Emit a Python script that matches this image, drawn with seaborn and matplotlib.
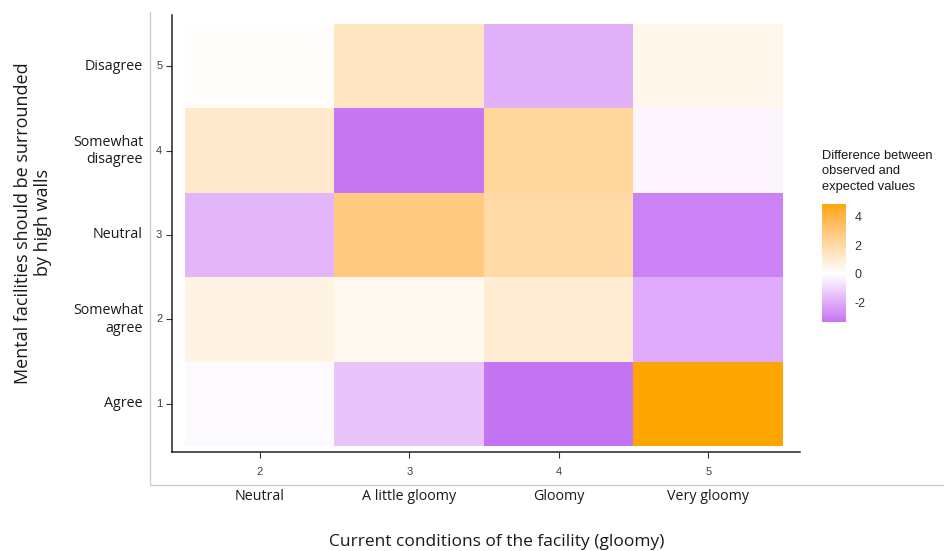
import numpy as np
import pandas as pd
import matplotlib
matplotlib.use("Agg")
import matplotlib.pyplot as plt
from matplotlib.colors import LinearSegmentedColormap, to_rgb
from matplotlib.lines import Line2D
import seaborn as sns

# ---- data ----
x_codes = [2, 3, 4, 5]
x_labels = ["Neutral", "A little gloomy", "Gloomy", "Very gloomy"]
y_codes = [5, 4, 3, 2, 1]  # top to bottom
y_labels = ["Disagree", "Somewhat\ndisagree", "Neutral", "Somewhat\nagree", "Agree"]
row_disagree = [0.1, 1.35, -1.9, 0.4]
row_smw_disagree = [1.1, -3.3, 2.2, -0.25]
row_neutral = [-1.8, 2.8, 1.95, -3.05]
row_smw_agree = [0.6, 0.35, 1.0, -2.1]
row_agree = [-0.12, -1.45, -3.4, 4.9]
cbar_ticks = [-2, 0, 2, 4]

values = np.array([row_disagree, row_smw_disagree, row_neutral, row_smw_agree, row_agree])
df = pd.DataFrame(values, index=y_codes, columns=x_codes)


# ---- Lab-space gradient (like ggplot's scale_fill_gradient2) ----
def _srgb_to_lab(c):
    c = np.array(c, float)
    lin = np.where(c <= 0.04045, c / 12.92, ((c + 0.055) / 1.055) ** 2.4)
    M = np.array([[0.4124, 0.3576, 0.1805], [0.2126, 0.7152, 0.0722], [0.0193, 0.1192, 0.9505]])
    xyz = M @ lin / np.array([0.95047, 1.0, 1.08883])
    f = np.where(xyz > 0.008856, np.cbrt(xyz), 7.787 * xyz + 16 / 116)
    return np.array([116 * f[1] - 16, 500 * (f[0] - f[1]), 200 * (f[1] - f[2])])


def _lab_to_srgb(lab):
    L, a, b = lab
    fy = (L + 16) / 116
    fx, fz = fy + a / 500, fy - b / 200
    f = np.array([fx, fy, fz])
    xyz = np.where(f ** 3 > 0.008856, f ** 3, (f - 16 / 116) / 7.787) * np.array([0.95047, 1.0, 1.08883])
    Minv = np.array([[3.2406, -1.5372, -0.4986], [-0.9689, 1.8758, 0.0415], [0.0557, -0.2040, 1.0570]])
    lin = np.clip(Minv @ xyz, 0, 1)
    return np.clip(np.where(lin <= 0.0031308, 12.92 * lin, 1.055 * lin ** (1 / 2.4) - 0.055), 0, 1)


def lab_ramp(c0, c1, n=16):
    l0, l1 = _srgb_to_lab(to_rgb(c0)), _srgb_to_lab(to_rgb(c1))
    return [tuple(_lab_to_srgb(l0 + (l1 - l0) * t)) for t in np.linspace(0, 1, n)]


vmin, vmax = values.min(), values.max()
mid = (0 - vmin) / (vmax - vmin)
n = 16
stops = []
for t, c in zip(np.linspace(0, mid, n), lab_ramp("#C474F3", "#FFFFFF", n)):
    stops.append((t, c))
for t, c in zip(np.linspace(mid, 1, n)[1:], lab_ramp("#FFFFFF", "#FFA500", n)[1:]):
    stops.append((t, c))
cmap = LinearSegmentedColormap.from_list("po", stops)

W, H = 945, 551
fig = plt.figure(figsize=(W / 100, H / 100), dpi=100)
sns.set_style("white")
plt.rcParams["font.family"] = ["Open Sans", "DejaVu Sans"]
plt.rcParams["axes.unicode_minus"] = False


def fr(x0, y0, x1, y1):
    return [x0 / W, 1 - y1 / H, (x1 - x0) / W, (y1 - y0) / H]


ax = fig.add_axes(fr(172, 15, 800, 452))
cax = fig.add_axes(fr(822, 204, 846, 322))

sns.heatmap(df, ax=ax, cmap=cmap, vmin=vmin, vmax=vmax, cbar_ax=cax,
            cbar_kws={"ticks": cbar_ticks})

# panel limits (cells span 0..4 x 0..5)
ax.set_xlim(-13 / 149.5, 4 + 17 / 149.5)
ax.set_ylim(5 + 6 / 84.4, -9 / 84.4)
for s in ["left", "bottom"]:
    ax.spines[s].set_visible(True)
    ax.spines[s].set_color("#222222")
    ax.spines[s].set_linewidth(1.1)
for s in ["top", "right"]:
    ax.spines[s].set_visible(False)

ax.set_xticks(np.arange(len(x_codes)) + 0.5)
ax.set_xticklabels([str(c) for c in x_codes])
ax.set_yticks(np.arange(len(y_codes)) + 0.5)
ax.set_yticklabels([str(c) for c in y_codes], rotation=0)
ax.tick_params(axis="both", which="major", length=4, width=0.8, color="#333333",
               labelsize=8, labelcolor="#3D3D5A", pad=3, bottom=True, left=True)
for lab in ax.get_xticklabels() + ax.get_yticklabels():
    lab.set_fontfamily(["Liberation Sans", "DejaVu Sans"])
ax.set_xlabel("")
ax.set_ylabel("")
ax.tick_params(axis="x", pad=7)

# outer category labels
for i, lab in enumerate(y_labels):
    ax.text(-29 / 628, i + 0.5, lab, transform=ax.get_yaxis_transform(),
            ha="right", va="center", fontsize=10.3, color="#1a1a1a",
            linespacing=1.2)
for i, lab in enumerate(x_labels):
    ax.text(i + 0.5, -(496 - 452) / 437, lab, transform=ax.get_xaxis_transform(),
            ha="center", va="center", fontsize=10.3, color="#1a1a1a")

# axis titles
fig.text(33 / W, 1 - 223 / H, "Mental facilities should be surrounded\nby high walls",
         rotation=90, ha="center", va="center", fontsize=13, color="#1a1a1a",
         linespacing=1.2)
fig.text(497 / W, 1 - 542 / H, "Current conditions of the facility (gloomy)",
         ha="center", va="center", fontsize=12.5, color="#1a1a1a")

# colorbar styling
cb = ax.collections[0].colorbar
cb.outline.set_visible(False)
cax.tick_params(axis="y", direction="in", length=4, width=0.8, color="white",
                labelsize=9, labelcolor="#333333", pad=6, left=True, right=True)
for lab in cax.get_yticklabels():
    lab.set_fontfamily(["Liberation Sans", "DejaVu Sans"])
fig.text(822 / W, 1 - 150 / H, "Difference between\nobserved and\nexpected values",
         ha="left", va="top", fontsize=9.3, color="#1a1a1a",
         family=["Liberation Sans", "DejaVu Sans"], linespacing=1.38)

# outer gray frame of the embedded plot image
fig.add_artist(Line2D([150 / W, 150 / W], [1 - 12 / H, 1 - 485 / H],
                      transform=fig.transFigure, color="#cccccc", lw=1))
fig.add_artist(Line2D([150 / W, 1.0], [1 - 485 / H, 1 - 485 / H],
                      transform=fig.transFigure, color="#cccccc", lw=1))

fig.savefig("out.png", dpi=100)
